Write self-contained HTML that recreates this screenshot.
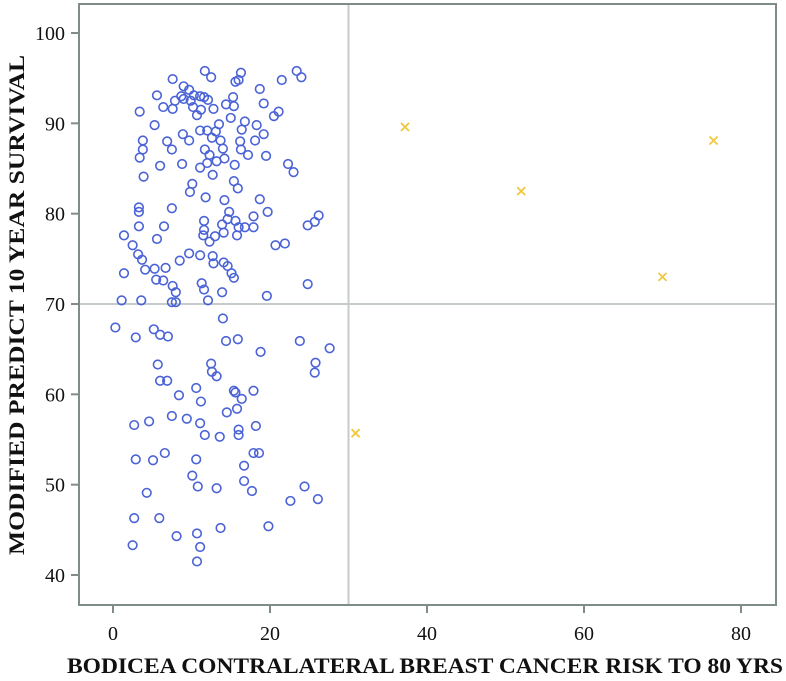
<!DOCTYPE html>
<html><head><meta charset="utf-8"><style>
html,body{margin:0;padding:0;background:#fff;}
svg{display:block;font-family:"Liberation Serif",serif;}
</style></head><body>
<svg id="chart" width="786" height="681" viewBox="0 0 786 681" xmlns="http://www.w3.org/2000/svg">
<rect x="0" y="0" width="786" height="681" fill="#fff"/>
<g id="grid"></g><g id="marks"></g><g id="axes"></g>
</svg>
<script>
const xTicks=[0,20,40,60,80];
const yTicks=[40,50,60,70,80,90,100];
const refX=30, refY=70;
const highX=[37.2,52.0,70.0,76.5,30.9];
const highY=[89.6,82.5,73.0,88.1,55.7];
const lowX=[11.7,12.5,16.3,16.0,15.6,23.4,24.0,21.5,7.6,9.0,9.7,5.6,8.7,10.3,11.1,11.6,12.1,9.0,7.9,9.9,15.3,18.7,14.4,15.4,19.2,6.4,7.6,10.2,11.2,10.7,12.8,3.4,21.1,20.5,15.0,5.3,16.8,13.5,18.3,11.1,12.0,13.1,16.4,8.9,9.7,12.6,19.2,3.8,6.9,13.7,16.2,18.1,7.5,3.8,11.7,14.0,16.3,12.3,17.2,19.5,3.4,14.2,6.0,8.8,12.0,13.2,15.5,22.3,11.1,23.0,12.7,3.9,10.1,9.8,15.4,15.9,11.8,14.2,18.7,3.3,3.3,7.5,19.7,14.8,26.2,11.6,13.9,14.6,15.6,17.9,25.7,24.8,3.3,6.5,16.0,16.8,17.9,11.6,14.1,11.5,13.0,15.8,1.4,5.6,12.3,2.5,20.7,21.9,3.2,3.7,9.7,11.1,8.5,12.7,12.8,14.1,14.6,4.1,5.3,6.7,1.4,15.1,15.4,5.5,6.4,7.6,8.0,11.3,11.6,13.9,24.8,19.6,1.1,3.6,7.5,8.0,12.1,14.0,0.3,2.9,5.2,6.0,7.0,14.4,15.9,23.8,27.6,18.8,5.7,12.5,12.6,13.2,25.8,25.7,6.0,6.9,10.6,8.4,15.4,15.6,16.4,17.9,11.2,14.5,15.8,7.5,4.6,2.7,9.4,11.1,18.2,16.0,11.7,13.6,16.0,2.9,5.1,6.6,10.6,17.9,18.6,16.7,10.1,10.8,13.2,16.7,17.7,4.3,24.4,22.6,26.1,2.7,5.9,8.1,10.7,13.7,19.8,2.5,11.1,10.7];
const lowY=[95.8,95.1,95.6,94.8,94.6,95.8,95.1,94.8,94.9,94.1,93.7,93.1,93.0,93.1,93.0,92.9,92.6,92.7,92.5,92.5,92.9,93.8,92.1,91.9,92.2,91.8,91.6,91.8,91.5,90.9,91.6,91.3,91.3,90.8,90.6,89.8,90.2,89.9,89.8,89.2,89.2,89.1,89.3,88.8,88.1,88.4,88.8,88.1,88.0,88.1,88.0,88.1,87.1,87.1,87.1,87.2,87.1,86.5,86.5,86.4,86.2,86.1,85.3,85.5,85.6,85.8,85.4,85.5,85.1,84.6,84.3,84.1,83.3,82.4,83.6,82.8,81.8,81.5,81.6,80.7,80.2,80.6,80.2,80.2,79.8,79.2,78.8,79.4,79.2,79.7,79.1,78.7,78.6,78.6,78.5,78.5,78.5,78.2,77.9,77.6,77.5,77.6,77.6,77.2,76.9,76.5,76.5,76.7,75.5,74.9,75.6,75.4,74.8,75.3,74.5,74.6,74.2,73.8,73.9,74.0,73.4,73.4,72.9,72.7,72.6,72.0,71.3,72.3,71.6,71.3,72.2,70.9,70.4,70.4,70.2,70.2,70.4,68.4,67.4,66.3,67.2,66.6,66.4,65.9,66.1,65.9,65.1,64.7,63.3,63.4,62.5,62.0,63.5,62.4,61.5,61.5,60.7,59.9,60.4,60.2,59.5,60.4,59.2,58.0,58.4,57.6,57.0,56.6,57.3,56.8,56.5,56.1,55.5,55.3,55.5,52.8,52.7,53.5,52.8,53.5,53.5,52.1,51.0,49.8,49.6,50.4,49.3,49.1,49.8,48.2,48.4,46.3,46.3,44.3,44.6,45.2,45.4,43.3,43.1,41.5];

const NS="http://www.w3.org/2000/svg";
const L=79,R=776,T=4,B=605;
function sx(v){return 113+(v-0)*(741-113)/80;}
function sy(v){return 575-(v-40)*(575-33)/60;}
function mk(tag,attrs,parent){const e=document.createElementNS(NS,tag);for(const k in attrs)e.setAttribute(k,attrs[k]);parent.appendChild(e);return e;}
const grid=document.getElementById('grid'),marks=document.getElementById('marks'),axes=document.getElementById('axes');

let e=mk('line',{x1:sx(refX),x2:sx(refX),y1:T,y2:B,stroke:'#c6cbcb','stroke-width':2},grid);


e=mk('line',{x1:L,x2:R,y1:sy(refY),y2:sy(refY),stroke:'#c6cbcb','stroke-width':2},grid);



for(let i=0;i<lowX.length;i++){
  const c=mk('circle',{cx:sx(lowX[i]),cy:sy(lowY[i]),r:4.3,fill:'none',stroke:'#4b63d6','stroke-width':1.6},marks);
  
  
}
for(let i=0;i<highX.length;i++){
  const x=sx(highX[i]),y=sy(highY[i]),d=4;
  const p=mk('path',{d:`M${x-d},${y-d}L${x+d},${y+d}M${x-d},${y+d}L${x+d},${y-d}`,stroke:'#f0c840','stroke-width':1.8,fill:'none'},marks);
  
  
}

e=mk('rect',{x:L,y:T,width:R-L,height:B-T,fill:'none',stroke:'#7f8c8a','stroke-width':2},axes);


for(const t of xTicks){
  const x=sx(t);
  const tk=mk('line',{x1:x,x2:x,y1:B,y2:B+8,stroke:'#7f8c8a','stroke-width':2},axes);
  
  
  const tx=mk('text',{x:x,y:B+35,'text-anchor':'middle','font-size':20,fill:'#111'},axes);
  tx.textContent=t;
  
  
}
for(const t of yTicks){
  const y=sy(t);
  const tk=mk('line',{x1:L-8,x2:L,y1:y,y2:y,stroke:'#7f8c8a','stroke-width':2},axes);
  
  
  const tx=mk('text',{x:L-14,y:y+7,'text-anchor':'end','font-size':20,fill:'#111'},axes);
  tx.textContent=t;
  
  
}
e=mk('text',{x:425,y:673,'text-anchor':'middle','font-size':22,'font-weight':'bold',fill:'#111',textLength:716,lengthAdjust:'spacingAndGlyphs'},axes);
e.textContent='BODICEA CONTRALATERAL BREAST CANCER RISK TO 80 YRS';


e=mk('text',{x:0,y:0,'text-anchor':'middle','font-size':22,'font-weight':'bold',fill:'#111',textLength:500,lengthAdjust:'spacingAndGlyphs',transform:'translate(24,305) rotate(-90)'},axes);
e.textContent='MODIFIED PREDICT 10 YEAR SURVIVAL';


</script>
</body></html>
